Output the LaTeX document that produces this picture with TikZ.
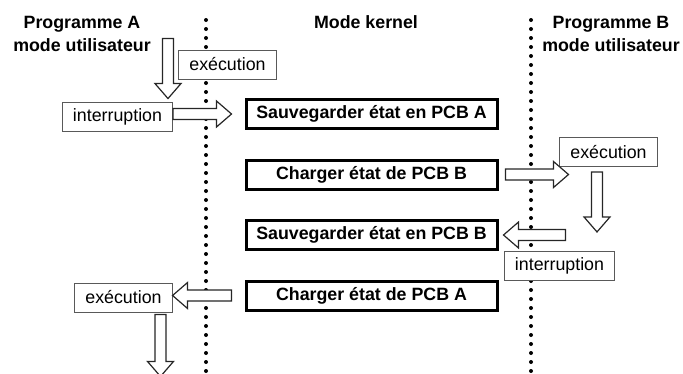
\documentclass[tikz,border=0pt]{standalone}
\usepackage{fontspec}
\setmainfont{Liberation Sans}
\usetikzlibrary{calc, positioning}
\newcommand{\taille}{\fontsize{17.8}{23}\selectfont}
\tikzset{
  titre/.style={align=center, font=\taille\bfseries},
  etat/.style={
    rectangle, draw=black, line width=3pt, fill=white,
    minimum width=251pt, minimum height=29pt, inner sep=0pt,
    font=\taille\bfseries
  },
  evenement/.style={
    rectangle, draw=black!65, line width=0.9pt, fill=white,
    minimum height=29pt, inner xsep=10.5pt, inner ysep=0pt,
    font=\taille
  },
  frontiere/.style={black, line width=4pt, line cap=round, dash pattern=on 0pt off 9pt},
  bigarrow/.style={draw=black!85, fill=white, line width=1.2pt, line join=miter}
}
% grosse fleche creuse de #1 vers #2
\newcommand{\blockarrow}[2]{%
  \coordinate (ba-head) at ($(#2)!15pt!(#1)$);
  \draw[bigarrow] ($(#1)!5.5pt!90:(#2)$) -- ($(ba-head)!5.5pt!-90:(#1)$)
    -- ($(ba-head)!13pt!-90:(#1)$) -- (#2)
    -- ($(ba-head)!13pt!90:(#1)$) -- ($(ba-head)!5.5pt!90:(#1)$)
    -- ($(#1)!5.5pt!-90:(#2)$) -- cycle;
}

\begin{document}
\begin{tikzpicture}[x=1pt, y=-1pt]
\useasboundingbox (0,0) rectangle (683,373);

% Titres des colonnes
\node[titre] (progA) at (82,34) {Programme A\\mode utilisateur};
\node[titre] (kernel) at (366,22) {Mode kernel};
\node[titre] (progB) at (611,34) {Programme B\\mode utilisateur};

% Frontieres user / kernel
\draw[frontiere] (206,20) -- (206,376);
\draw[frontiere] (531,20) -- (531,376);

% Etats du kernel
\node[etat] (sauvA) at (371.5,114) {Sauvegarder état en PCB A};
\node[etat, below=28.5pt of sauvA] (chargB) {Charger état de PCB B};
\node[etat, below=28.5pt of chargB] (sauvB) {Sauvegarder état en PCB B};
\node[etat, below=28.5pt of sauvB] (chargA) {Charger état de PCB A};

% Evenements des programmes
\node[evenement] (execA) at (227.5,64.5) {exécution};
\node[evenement] (interA) at (117.5,116.5) {interruption};
\node[evenement] (execB) at (608.5,152) {exécution};
\node[evenement] (interB) at (559.5,266) {interruption};
\node[evenement] (execA2) at (123.5,297.5) {exécution};

% Points d'attache des fleches
\coordinate (a1s) at ($(interA.north east)+(-5,-63)$);
\coordinate (a1e) at ($(interA.north east)+(-5,-3)$);
\coordinate (a2s) at (interA.east |- sauvA.west);
\coordinate (a2e) at ($(sauvA.west)+(-13,0)$);
\coordinate (a3s) at ($(chargB.east)+(7,0)$);
\coordinate (a3e) at ($(chargB.east)+(70,0)$);
\coordinate (a4s) at ($(execB.south)+(-11.5,5)$);
\coordinate (a4e) at ($(execB.south)+(-11.5,65)$);
\coordinate (a5s) at ($(sauvB.east)+(67,0)$);
\coordinate (a5e) at ($(sauvB.east)+(5,0)$);
\coordinate (a6s) at ($(chargA.west)+(-13,0)$);
\coordinate (a6e) at (execA2.east |- chargA.west);
\coordinate (a7s) at ($(execA2.south)+(37,2)$);
\coordinate (a7e) at ($(execA2.south)+(37,64)$);

% Fleches
\blockarrow{a1s}{a1e}
\blockarrow{a2s}{a2e}
\blockarrow{a3s}{a3e}
\blockarrow{a4s}{a4e}
\blockarrow{a5s}{a5e}
\blockarrow{a6s}{a6e}
\blockarrow{a7s}{a7e}

\end{tikzpicture}
\end{document}
